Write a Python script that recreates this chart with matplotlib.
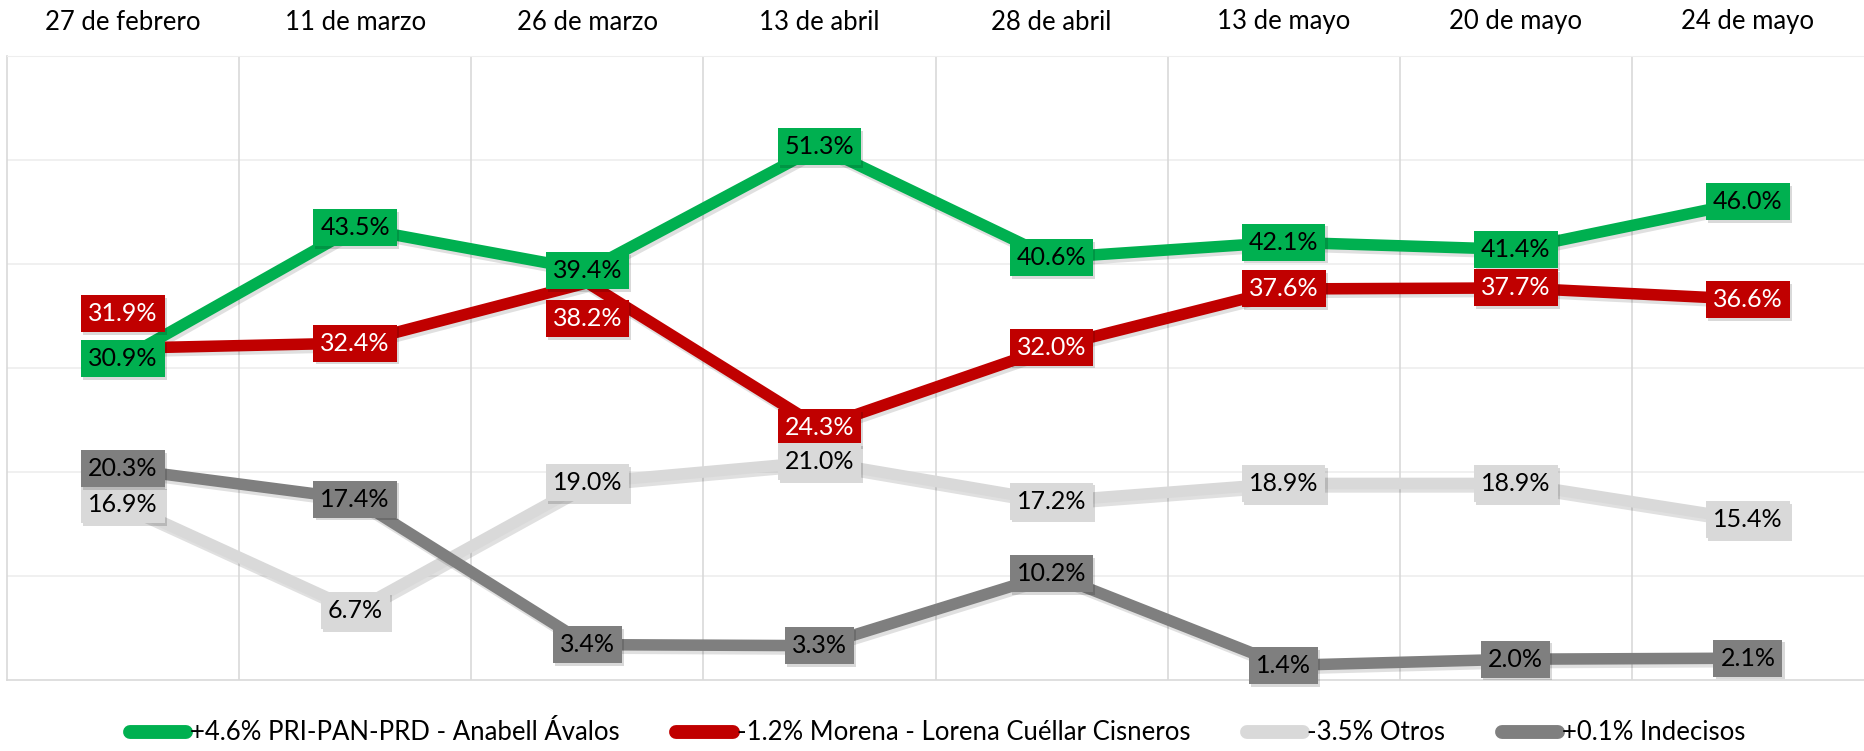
import matplotlib
matplotlib.use("Agg")
import matplotlib.pyplot as plt
import matplotlib.patheffects as pe
from matplotlib.lines import Line2D

plt.rcParams['font.family'] = ['Lato', 'DejaVu Sans']

# poll dates and results (%)
fechas = ['27 de febrero', '11 de marzo', '26 de marzo', '13 de abril',
          '28 de abril', '13 de mayo', '20 de mayo', '24 de mayo']
pri_pan_prd = [30.9, 43.5, 39.4, 51.3, 40.6, 42.1, 41.4, 46.0]
morena = [31.9, 32.4, 38.2, 24.3, 32.0, 37.6, 37.7, 36.6]
otros = [16.9, 6.7, 19.0, 21.0, 17.2, 18.9, 18.9, 15.4]
indecisos = [20.3, 17.4, 3.4, 3.3, 10.2, 1.4, 2.0, 2.1]

nombres = ['+4.6% PRI-PAN-PRD - Anabell Ávalos',
           '-1.2% Morena - Lorena Cuéllar Cisneros',
           '-3.5% Otros',
           '+0.1% Indecisos']

series = [pri_pan_prd, morena, otros, indecisos]
colores = ['#00B050', '#C00000', '#D9D9D9', '#7F7F7F']
texto_col = ['black', 'white', 'black', 'black']

# a couple of labels are nudged off their point (in points, vertical)
desplaza = {(1, 0): 25, (1, 2): -26}

fig = plt.figure(figsize=(18.64, 7.51), dpi=100)
ax = fig.add_axes([7 / 1864, 71 / 751, 1 - 7 / 1864, 624 / 751])

x = list(range(len(fechas)))
ax.set_xlim(-0.5, len(fechas) - 0.5)
ax.set_ylim(0, 60)

# grid
for yv in range(10, 60, 10):
    ax.axhline(yv, color='#EEEEEE', lw=1.2, zorder=0)
for xv in range(1, len(fechas)):
    ax.axvline(xv - 0.5, color='#D9D9D9', lw=1.2, zorder=0)

ax.spines['top'].set_color('#EEEEEE')
for s in ['left', 'bottom']:
    ax.spines[s].set_color('#D9D9D9')
    ax.spines[s].set_linewidth(1.2)
ax.spines['right'].set_visible(False)
ax.set_xticks([])
ax.set_yticks([])

sombra = [pe.SimpleLineShadow(offset=(1.5, -2.5), shadow_color='black', alpha=0.12), pe.Normal()]
for k, (vals, c) in enumerate(zip(series, colores)):
    ax.plot(x, vals, color=c, lw=8.3, solid_capstyle='butt', zorder=2 + k * 0.1,
            path_effects=sombra)

for k, (vals, c, tc) in enumerate(zip(series, colores, texto_col)):
    for i, v in enumerate(vals):
        dy = desplaza.get((k, i), 0)
        t = ax.annotate(f'{v:.1f}%', (i, v), xytext=(0, dy), textcoords='offset points',
                        ha='center', va='center', fontsize=18, color=tc, zorder=5 + k * 0.1,
                        bbox=dict(boxstyle='square,pad=0.28', fc=c, ec='none'))
        t.get_bbox_patch().set_path_effects(
            [pe.SimplePatchShadow(offset=(1.5, -2), shadow_rgbFace='black', alpha=0.15), pe.Normal()])

for i, f in enumerate(fechas):
    ax.text(i, 1 + 34 / 624, f, transform=ax.get_xaxis_transform(),
            ha='center', va='center', fontsize=18.5, color='black')

handles = [Line2D([0], [0], color=c, lw=10, solid_capstyle='round') for c in colores]
fig.legend(handles, nombres, loc='center', bbox_to_anchor=(0.503, 1 - 733 / 751), ncol=4,
           frameon=False, fontsize=18.5, handlelength=2.2, handletextpad=0.15,
           columnspacing=2.2)

fig.savefig('out.png', dpi=100, facecolor='white')
